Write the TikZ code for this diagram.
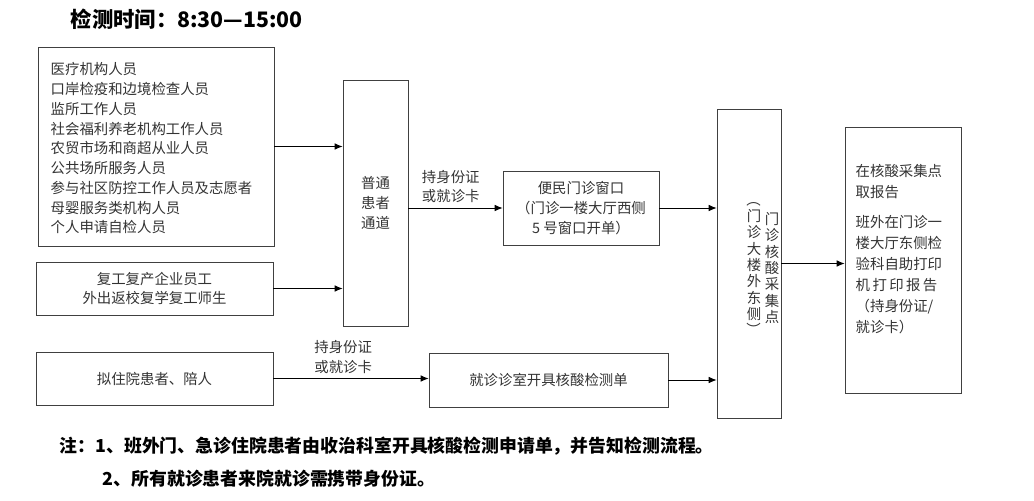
\documentclass[tikz,border=0pt]{standalone}
\usepackage{fontspec}
\setmainfont{Noto Sans CJK SC}
\usepackage{graphicx}
\usetikzlibrary{arrows.meta}

\newcommand{\vparen}[1]{\rotatebox[origin=c]{-90}{#1}}

\begin{document}
\begin{tikzpicture}[x=0.75pt,y=-0.75pt,
	box/.style={draw=black!75,semithick,inner sep=0pt},
	txt/.style={text=black!80,font=\fontsize{10.8}{14.8}\selectfont},
	flow/.style={-{Latex[length=6pt,width=5pt]},semithick},
	note/.style={font=\fontsize{13.4}{15}\selectfont\bfseries,anchor=west}]

	\useasboundingbox (0,0) rectangle (1034,500);

	%Title
	\node[anchor=west,font=\fontsize{16}{18}\selectfont\bfseries] (title) at (66,19) {检测时间：8:30—15:00};

	%The people on the left
	\node[box,minimum width=177pt,minimum height=149.25pt] (staff) at (156,146.5) {};
	\node[txt,anchor=north west,align=left] (stafftxt) at (46,58)
		{医疗机构人员\\口岸检疫和边境检查人员\\监所工作人员\\社会福利养老机构工作人员\\农贸市场和商超从业人员\\公共场所服务人员\\参与社区防控工作人员及志愿者\\母婴服务类机构人员\\个人申请自检人员};
	\node[box,txt,minimum width=177.75pt,minimum height=39.75pt,align=center] (work) at (154.5,288.5)
		{复工复产企业员工\\外出返校复学复工师生};
	\node[box,txt,minimum width=177.75pt,minimum height=39.75pt] (inpat) at (154.5,378.5) {拟住院患者、陪人};

	%The channel and windows
	\node[box,txt,minimum width=48.75pt,minimum height=184.5pt,align=center] (chan) at (375.5,203) {普通\\患者\\通道};
	\node[box,txt,minimum width=117pt,minimum height=55.5pt,align=center] (win) at (581,208)
		{便民门诊窗口\\（门诊一楼大厅西侧\\5 号窗口开单）};
	\node[box,txt,minimum width=179.25pt,minimum height=40.5pt] (room) at (548.5,380) {就诊诊室开具核酸检测单};

	%The collection point
	\node[box,minimum width=48pt,minimum height=231.75pt] (coll) at (749,263.5) {};
	\node[txt,align=center,font=\fontsize{10.8}{12.2}\selectfont] (colla) at (772,268) {门\\诊\\核\\酸\\采\\集\\点};
	\node[txt,align=center,font=\fontsize{10.8}{12.2}\selectfont] (collb) at (754,265)
		{\vparen{（}\\门\\诊\\大\\楼\\外\\东\\侧\\\vparen{）}};

	%The report
	\node[box,minimum width=87pt,minimum height=199.5pt] (rep) at (903,260) {};
	\node[txt,anchor=north west,align=left,font=\fontsize{10.8}{15.8}\selectfont] (reptxt) at (851,160)
		{在核酸采集点\\取报告\\[6pt]班外在门诊一\\楼大厅东侧检\\验科自助打印\\机\,打\,印\,报\,告\\（持身份证/\\就诊卡）};

	%Arrows
	\draw[flow] (staff.east) -- (staff.east -| chan.west);
	\draw[flow] (work.east) -- (work.east -| chan.west);
	\draw[flow] (win.west -| chan.east) -- node[txt,above,align=left,pos=0.45] (lab1) {持身份证\\或就诊卡} (win.west);
	\draw[flow] (win.east) -- (win.east -| coll.west);
	\draw[flow] (inpat.east) -- node[txt,above,align=left,pos=0.45] (lab2) {持身份证\\或就诊卡} (inpat.east -| room.west);
	\draw[flow] (room.east) -- (room.east -| coll.west);
	\draw[flow] (coll.east) -- (coll.east -| rep.west);

	%Notes
	\node[note] (note1) at (55,446) {注：1、班外门、急诊住院患者由收治科室开具核酸检测申请单，并告知检测流程。};
	\node[note] (note2) at (98,479) {2、所有就诊患者来院就诊需携带身份证。};

\end{tikzpicture}
\end{document}
